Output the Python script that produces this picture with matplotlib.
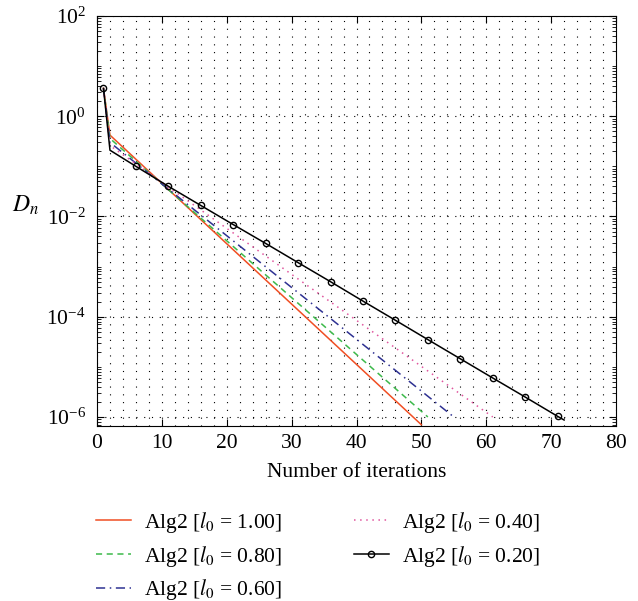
import numpy as np
import matplotlib
matplotlib.use("Agg")
import matplotlib.pyplot as plt
from matplotlib.ticker import FixedLocator, LogLocator, LogFormatterMathtext, MultipleLocator, NullFormatter

plt.rcParams['font.family'] = 'Liberation Serif'
plt.rcParams['mathtext.fontset'] = 'stix'
plt.rcParams['font.size'] = 15.5

# values
it_100 = [1, 2, 50]
D_100 = [3.6, 0.42, 7.0e-7]
it_080 = [1, 2, 51]
D_080 = [3.6, 0.36, 1.0e-6]
it_060 = [1, 2, 55]
D_060 = [3.6, 0.30, 1.0e-6]
it_040 = [1, 2, 61]
D_040 = [3.6, 0.26, 1.0e-6]
it_020 = [1, 2, 6, 11, 16, 21, 26, 31, 36, 41, 46, 51, 56, 61, 66, 71, 72]
D_020 = [3.6, 0.21, 0.10, 0.040, 0.0166, 0.0069, 0.0029, 0.0012, 5.0e-4,
         2.05e-4, 8.5e-5, 3.5e-5, 1.45e-5, 6.0e-6, 2.5e-6, 1.03e-6, 8.7e-7]
marker_idx = [0, 2, 3, 4, 5, 6, 7, 8, 9, 10, 11, 12, 13, 14, 15]

fig = plt.figure(figsize=(6.38, 6.01), dpi=100)
ax = fig.add_axes([97/638, 1 - 426/601, (616 - 97)/638, (426 - 16)/601])

ax.plot(it_100, D_100, color='#f04e23', lw=1.1, label=r'Alg2 [$l_0$ = 1.00]')
ax.plot(it_080, D_080, color='#3cb94a', lw=1.1, ls=(0, (4, 3)), label=r'Alg2 [$l_0$ = 0.80]')
ax.plot(it_060, D_060, color='#2e3192', lw=1.1, ls=(0, (6, 3, 1, 3)), label=r'Alg2 [$l_0$ = 0.60]')
ax.plot(it_040, D_040, color='#e0559e', lw=1.1, ls=(0, (1, 3)), label=r'Alg2 [$l_0$ = 0.40]')
ax.plot(it_020, D_020, color='black', lw=1.1, marker='o', ms=4.5, mfc='none', mew=1.0,
        markevery=marker_idx, label=r'Alg2 [$l_0$ = 0.20]')

ax.set_yscale('log')
ax.set_xlim(0, 80)
ax.set_ylim(10**-6.18, 1e2)

ax.xaxis.set_major_locator(MultipleLocator(10))
ax.xaxis.set_minor_locator(MultipleLocator(2))
ax.yaxis.set_major_locator(FixedLocator([1e-6, 1e-4, 1e-2, 1, 1e2]))
ax.yaxis.set_major_formatter(LogFormatterMathtext())
ax.yaxis.set_minor_locator(LogLocator(base=10, subs=np.arange(1, 10), numticks=50))
ax.yaxis.set_minor_formatter(NullFormatter())

ax.tick_params(which='both', direction='in', top=True, right=True, labelsize=15.5)
ax.tick_params(which='major', length=5)
ax.tick_params(axis='x', which='major', pad=6)
ax.tick_params(axis='y', which='major', pad=8)
ax.tick_params(axis='y', which='minor', length=3)
ax.tick_params(axis='x', which='minor', length=0)

grid_style = dict(color='black', ls=(0, (1, 6)), lw=0.8)
ax.grid(True, which='major', axis='both', **grid_style)
ax.grid(True, which='minor', axis='x', **grid_style)

ax.set_xlabel('Number of iterations', fontsize=15.5, labelpad=7)
ax.set_ylabel(r'$D_n$', rotation=0, fontsize=17)
ax.yaxis.set_label_coords(-0.137, 0.51)

fig.legend(loc='upper left', bbox_to_anchor=(96/638, 1 - 510/601), ncol=2,
           frameon=False, borderaxespad=0, borderpad=0, handlelength=1.63,
           handletextpad=0.62, columnspacing=3.3, labelspacing=0.4, fontsize=15.5)

fig.savefig('out.png', dpi=100)
